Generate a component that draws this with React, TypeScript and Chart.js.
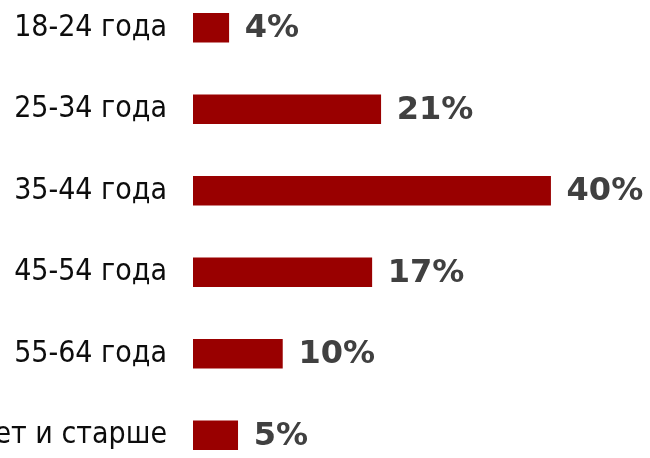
import React, { useEffect, useRef } from "react";
import { Chart, registerables } from "chart.js";

Chart.register(...registerables);

const categories = ["18-24 года", "25-34 года", "35-44 года", "45-54 года", "55-64 года", "65 лет и старше"];
const barValues = [4, 21, 40, 20, 10, 5];
const valueLabels = ["4%", "21%", "40%", "17%", "10%", "5%"];

const BAR_COLOR = "#990000";
const LABEL_COLOR = "#0d0d0d";
const VALUE_COLOR = "#404040";
const FAMILY = '"DejaVu Sans Condensed", "DejaVu Sans", sans-serif';

const valueLabelPlugin = {
  id: "valueLabels",
  afterDatasetsDraw(chart: any) {
    const ctx = chart.ctx;
    const meta = chart.getDatasetMeta(0);
    ctx.save();
    ctx.font = `bold 32px "DejaVu Sans", sans-serif`;
    ctx.fillStyle = VALUE_COLOR;
    ctx.textAlign = "left";
    ctx.textBaseline = "middle";
    meta.data.forEach((bar: any, i: number) => {
      ctx.fillText(valueLabels[i], bar.x + 16, bar.y + 1);
    });
    ctx.restore();
  },
};

export default function App() {
  const ref = useRef<HTMLCanvasElement | null>(null);
  useEffect(() => {
    document.body.style.margin = "0";
    const chart = new Chart(ref.current!, {
      type: "bar",
      data: {
        labels: categories,
        datasets: [
          {
            data: barValues,
            backgroundColor: BAR_COLOR,
            barThickness: 29,
          },
        ],
      },
      options: {
        indexAxis: "y",
        animation: false,
        responsive: false,
        maintainAspectRatio: false,
        layout: { padding: { top: 0, bottom: 0, left: 0, right: 10 } },
        plugins: { legend: { display: false }, tooltip: { enabled: false } },
        scales: {
          x: { display: false, min: 0, max: 50 },
          y: {
            grid: { display: false, drawTicks: false },
            border: { display: false },
            ticks: {
              padding: 26,
              color: LABEL_COLOR,
              font: { family: FAMILY, size: 30 },
            },
            afterFit(scale: any) {
              scale.width = 193;
              scale.paddingTop = 0;
              scale.paddingBottom = 0;
            },
          },
        },
      },
      plugins: [valueLabelPlugin],
    });
    return () => chart.destroy();
  }, []);
  return (
    <div style={{ width: 650, height: 458, overflow: "hidden", background: "#fff" }}>
      <canvas ref={ref} width={650} height={489} style={{ display: "block", marginTop: -13 }} />
    </div>
  );
}
